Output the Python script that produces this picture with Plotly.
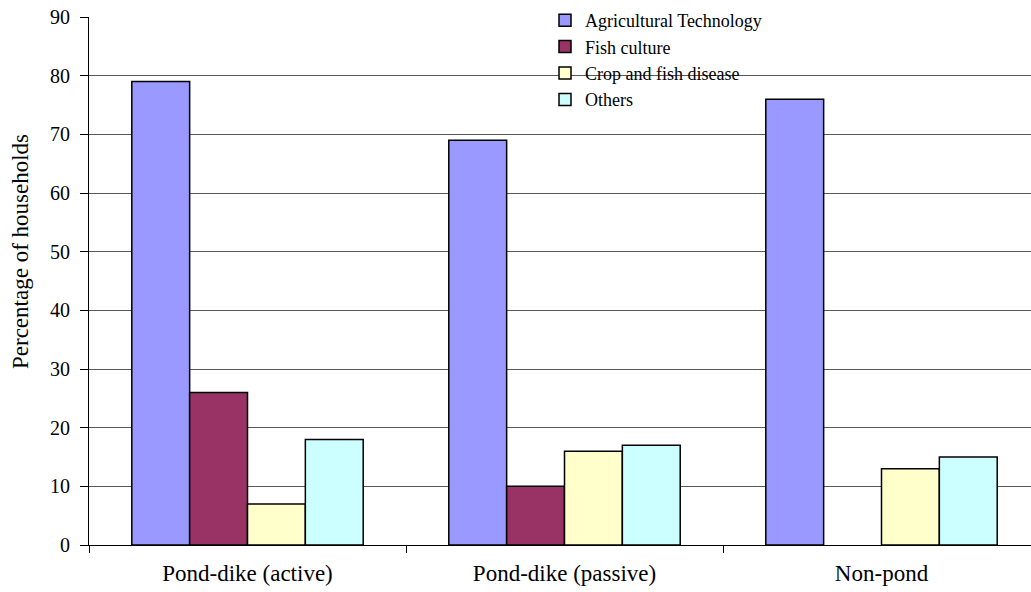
import plotly.graph_objects as go

# Household groups on the x axis
categories = ["Pond-dike (active)", "Pond-dike (passive)", "Non-pond"]

# Percentage of households by information topic
agri_technology = [79, 69, 76]
fish_culture = [26, 10, 0]
crop_fish_disease = [7, 16, 13]
others = [18, 17, 15]

series = [
    ("Agricultural Technology", agri_technology, "#9999FF"),
    ("Fish culture", fish_culture, "#993366"),
    ("Crop and fish disease", crop_fish_disease, "#FFFFCC"),
    ("Others", others, "#CCFFFF"),
]

y_ticks = list(range(0, 91, 10))

FONT = "Liberation Serif"

fig = go.Figure()
for name, values, color in series:
    fig.add_trace(go.Bar(
        x=categories,
        y=values,
        name=name,
        marker=dict(
            color=color,
            # no outline on empty (zero-height) bars
            line=dict(color="black", width=[1.5 if v > 0 else 0 for v in values]),
        ),
    ))

W, H = 1031, 592
ml, mr, mt, mb = 89, 0, 17, 47
pw, ph = W - ml - mr, H - mt - mb


def px_to_paper_x(px):
    return (px - ml) / pw


def px_to_paper_y(py):
    return (H - mb - py) / ph


fig.update_layout(
    width=W,
    height=H,
    margin=dict(l=ml, r=mr, t=mt, b=mb),
    paper_bgcolor="white",
    plot_bgcolor="white",
    barmode="group",
    bargap=0.27,
    bargroupgap=0,
    font=dict(family=FONT, color="black"),
    xaxis=dict(
        type="category",
        range=[-0.5, -0.5 + pw / 317.0],
        tickson="boundaries",
        ticks="outside",
        ticklen=7,
        tickcolor="black",
        showline=True,
        linecolor="black",
        linewidth=1,
        showgrid=False,
        tickfont=dict(size=23, family=FONT, color="black"),
        ticklabelstandoff=7,
    ),
    yaxis=dict(
        range=[0, 90],
        tickvals=y_ticks,
        ticks="outside",
        ticklen=8,
        tickcolor="black",
        showline=True,
        linecolor="black",
        linewidth=1,
        showgrid=True,
        gridcolor="#5a5a5a",
        gridwidth=1,
        zeroline=False,
        tickfont=dict(size=20, family=FONT, color="black"),
        ticklabelstandoff=6,
    ),
    legend=dict(
        x=px_to_paper_x(545),
        y=px_to_paper_y(2),
        xanchor="left",
        yanchor="top",
        bgcolor="rgba(255,255,255,0)",
        borderwidth=0,
        font=dict(size=18, family=FONT, color="black"),
        traceorder="normal",
    ),
    showlegend=True,
)

# White legend box hiding the gridlines behind the legend
fig.add_shape(
    type="rect",
    xref="paper", yref="paper",
    x0=px_to_paper_x(498), x1=px_to_paper_x(887),
    y0=px_to_paper_y(108), y1=1.02,
    fillcolor="white",
    line=dict(width=0),
    layer="between",
)

# Y axis title
fig.add_annotation(
    text="Percentage of households",
    xref="paper", yref="paper",
    x=px_to_paper_x(20), y=px_to_paper_y(252),
    xanchor="center", yanchor="middle",
    textangle=-90,
    showarrow=False,
    font=dict(size=23, family=FONT, color="black"),
)

fig.write_html("out.html")
